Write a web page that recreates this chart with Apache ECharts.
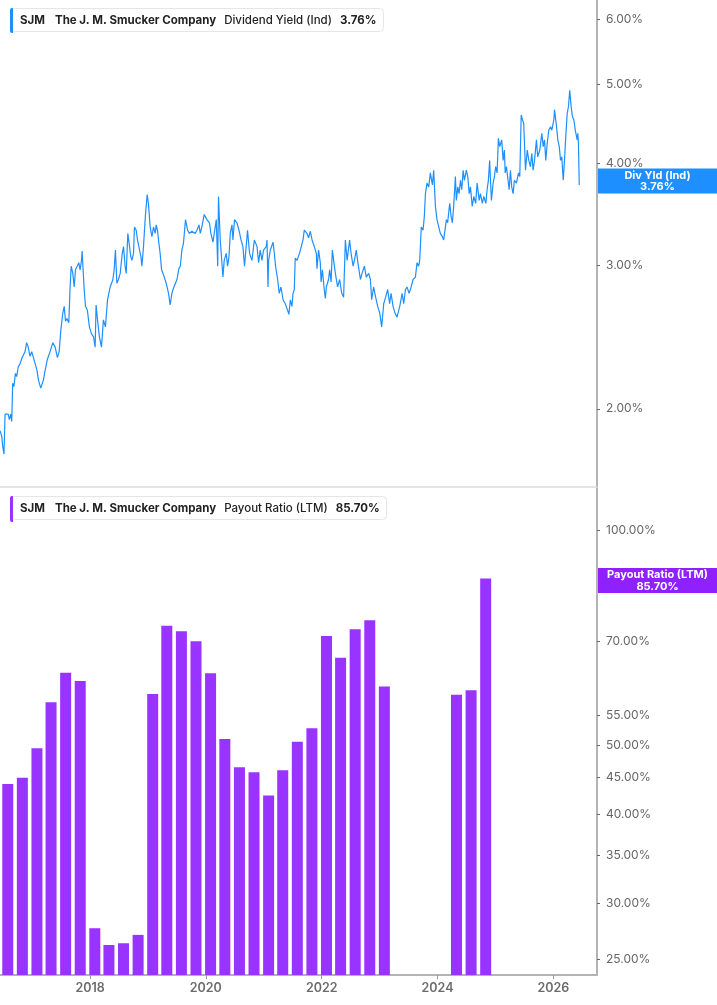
<!DOCTYPE html>
<html lang="en">
<head>
<meta charset="UTF-8">
<title>SJM Dividend Yield and Payout Ratio</title>
<script src="https://cdn.jsdelivr.net/npm/echarts@6/dist/echarts.min.js"></script>
<style>
  * { margin: 0; padding: 0; box-sizing: border-box; }
  body { background: #fff; }
  #chart { width: 717px; height: 1005px; }
</style>
</head>
<body>
<div id="chart"></div>
<script>
// Dividend yield (Ind), %
const yieldDates = [
  '2016-06-12','2016-06-23','2016-06-29','2016-07-07','2016-07-14','2016-07-24','2016-08-03','2016-08-10','2016-08-19','2016-08-25','2016-08-31','2016-09-08','2016-09-17','2016-09-25','2016-10-05','2016-10-16','2016-10-29','2016-11-06','2016-11-17','2016-11-27','2016-12-07','2016-12-18','2016-12-29',
  '2017-01-09','2017-01-20','2017-01-31','2017-02-09','2017-02-24','2017-03-13','2017-03-24','2017-04-07','2017-04-24','2017-05-11','2017-05-26','2017-06-09','2017-06-20','2017-07-01','2017-07-13','2017-07-22','2017-07-30','2017-08-08','2017-08-20','2017-08-28','2017-09-04','2017-09-14','2017-09-23','2017-10-01','2017-10-13','2017-10-22','2017-10-30','2017-11-08','2017-11-12','2017-11-18','2017-11-25','2017-12-03','2017-12-15','2017-12-28',
  '2018-01-10','2018-01-23','2018-02-02','2018-02-08','2018-02-17','2018-03-01','2018-03-14','2018-03-26','2018-04-08','2018-04-21','2018-05-08','2018-05-25','2018-06-02','2018-06-10','2018-06-19','2018-06-29','2018-07-10','2018-07-23','2018-07-31','2018-08-10','2018-08-17','2018-08-27','2018-09-07','2018-09-15','2018-09-22','2018-10-02','2018-10-08','2018-10-19','2018-10-27','2018-11-09','2018-11-18','2018-11-24','2018-12-04','2018-12-13','2018-12-17','2018-12-27',
  '2019-01-04','2019-01-15','2019-01-26','2019-02-05','2019-02-16','2019-02-22','2019-03-02','2019-03-11','2019-03-19','2019-03-28','2019-04-14','2019-04-26','2019-05-11','2019-05-21','2019-06-01','2019-06-11','2019-06-22','2019-07-03','2019-07-15','2019-07-24','2019-08-03','2019-08-13','2019-08-26','2019-09-08','2019-09-20','2019-10-05','2019-10-26','2019-11-06','2019-11-19','2019-11-27','2019-12-07','2019-12-22',
  '2020-01-08','2020-01-24','2020-02-02','2020-02-15','2020-03-07','2020-03-16','2020-03-21','2020-04-01','2020-04-18','2020-04-26','2020-05-09','2020-05-17','2020-05-26','2020-06-03','2020-06-14','2020-06-20','2020-06-30','2020-07-15','2020-07-28','2020-08-10','2020-08-22','2020-09-01','2020-09-20','2020-10-03','2020-10-18','2020-11-02','2020-11-19','2020-11-29','2020-12-09','2020-12-20','2020-12-30',
  '2021-01-16','2021-01-21','2021-01-27','2021-01-31','2021-02-11','2021-02-28','2021-03-08','2021-03-16','2021-03-29','2021-04-08','2021-04-19','2021-05-02','2021-05-16','2021-05-31','2021-06-08','2021-06-17','2021-06-27','2021-07-04','2021-07-12','2021-07-18','2021-07-29','2021-08-14','2021-09-05','2021-09-13','2021-09-30','2021-10-10','2021-10-21','2021-11-01','2021-11-15','2021-11-28','2021-12-02','2021-12-12','2021-12-23','2021-12-28',
  '2022-01-05','2022-01-17','2022-01-24','2022-01-30','2022-02-13','2022-02-20','2022-03-01','2022-03-09','2022-03-17','2022-03-28','2022-04-11','2022-04-24','2022-05-07','2022-05-19','2022-05-30','2022-06-10','2022-06-26','2022-07-05','2022-07-18','2022-07-26','2022-08-07','2022-08-15','2022-09-02','2022-09-12','2022-09-27','2022-10-09','2022-10-24','2022-11-04','2022-11-12','2022-11-24','2022-12-07','2022-12-20',
  '2023-01-02','2023-01-14','2023-01-27','2023-02-08','2023-02-21','2023-03-05','2023-03-14','2023-03-27','2023-04-08','2023-04-21','2023-05-08','2023-05-23','2023-06-02','2023-06-13','2023-06-23','2023-07-06','2023-07-19','2023-07-31','2023-08-15','2023-08-25','2023-09-04','2023-09-11','2023-09-21','2023-10-02','2023-10-10','2023-10-17','2023-10-27','2023-11-07','2023-11-17','2023-11-30','2023-12-08','2023-12-19','2023-12-29',
  '2024-01-09','2024-01-19','2024-02-01','2024-02-09','2024-02-26','2024-03-05','2024-03-18','2024-03-27','2024-04-04','2024-04-12','2024-04-23','2024-04-29','2024-05-08','2024-05-16','2024-05-25','2024-06-02','2024-06-11','2024-06-19','2024-07-01','2024-07-10','2024-07-19','2024-07-27','2024-08-07','2024-08-17','2024-08-29','2024-09-07','2024-09-20','2024-09-28','2024-10-10','2024-10-19','2024-11-01','2024-11-09','2024-11-17','2024-11-25','2024-12-06','2024-12-17','2024-12-25',
  '2025-01-02','2025-01-11','2025-01-19','2025-01-28','2025-02-09','2025-02-18','2025-02-26','2025-03-03','2025-03-11','2025-03-28','2025-04-05','2025-04-13','2025-04-22','2025-04-30','2025-05-13','2025-05-26','2025-06-03','2025-06-12','2025-06-20','2025-06-28','2025-07-09','2025-07-20','2025-07-30','2025-08-09','2025-08-18','2025-08-26','2025-09-04','2025-09-16','2025-09-24','2025-10-07','2025-10-20','2025-10-29','2025-11-06','2025-11-14','2025-11-23','2025-12-03','2025-12-14','2025-12-22',
  '2026-01-04','2026-01-08','2026-01-21','2026-01-29','2026-02-07','2026-02-15','2026-02-23','2026-03-04','2026-03-12','2026-03-20','2026-03-29','2026-04-06','2026-04-14','2026-04-23','2026-05-01','2026-05-10','2026-05-19','2026-05-27','2026-05-31','2026-06-04','2026-06-08','2026-06-13'
];
const yieldPct = [
  1.88,1.85,1.80,1.76,1.97,1.96,1.97,1.94,1.97,1.93,2.15,2.13,2.21,2.19,2.25,2.27,2.31,2.30,2.35,2.41,2.38,2.32,2.35,
  2.34,2.27,2.23,2.17,2.12,2.17,2.23,2.30,2.35,2.41,2.38,2.31,2.35,2.50,2.62,2.67,2.56,2.58,2.55,2.82,2.99,2.93,2.82,2.96,2.97,3.02,2.96,3.04,3.12,2.96,2.80,2.67,2.64,2.52,
  2.47,2.45,2.38,2.68,2.57,2.45,2.38,2.57,2.52,2.72,2.82,2.88,2.96,3.13,2.85,2.88,2.93,3.10,3.16,2.99,2.93,3.28,3.16,3.07,3.04,3.10,3.34,3.31,3.22,3.13,3.07,2.99,3.16,3.38,3.47,3.66,
  3.57,3.34,3.25,3.34,3.28,3.36,3.31,3.19,3.10,2.96,2.90,2.85,2.77,2.68,2.77,2.81,2.80,2.88,2.97,2.99,3.13,3.19,3.41,3.31,3.28,3.30,3.28,3.31,3.36,3.28,3.34,3.46,
  3.41,3.38,3.28,3.20,3.41,2.99,3.64,3.22,2.90,3.04,3.10,2.99,3.07,3.28,3.36,3.22,3.41,3.38,3.31,3.22,3.16,2.99,3.31,3.10,3.04,3.22,3.16,3.02,3.13,3.04,3.13,
  3.16,3.22,2.82,3.04,3.13,3.20,3.10,2.99,2.88,2.77,2.82,2.72,2.69,2.64,2.61,2.72,2.67,2.77,2.80,3.06,3.04,3.10,3.22,3.31,3.28,3.24,3.30,3.22,3.16,3.10,2.97,3.13,3.02,2.86,
  2.96,2.80,2.73,2.82,2.88,2.96,2.86,3.13,3.04,2.93,2.82,2.88,2.77,2.74,3.22,3.04,3.22,3.10,2.99,3.04,3.13,3.04,2.88,2.93,2.99,2.90,2.93,2.88,2.72,2.82,2.74,2.67,
  2.62,2.52,2.69,2.74,2.80,2.69,2.77,2.67,2.62,2.59,2.67,2.77,2.69,2.80,2.82,2.77,2.82,2.88,2.90,3.02,2.99,3.04,3.34,3.31,3.44,3.67,3.78,3.74,3.89,3.76,3.92,3.54,3.41,
  3.34,3.28,3.25,3.22,3.41,3.38,3.57,3.44,3.38,3.54,3.85,3.60,3.74,3.67,3.81,3.71,3.92,3.81,3.92,3.85,3.67,3.74,3.54,3.64,3.57,3.78,3.60,3.67,3.57,3.64,3.57,3.71,3.81,4.03,3.60,3.78,3.85,
  3.96,3.89,4.29,4.19,4.27,4.03,4.15,3.89,3.96,3.71,3.92,3.74,3.67,3.81,3.78,3.89,3.85,4.58,4.52,4.47,3.92,4.15,4.03,3.96,4.11,3.92,4.03,4.27,4.07,4.15,4.35,4.19,4.27,4.03,4.23,4.39,4.43,4.39,
  4.52,4.65,4.43,4.27,4.19,4.03,4.07,3.81,4.03,4.31,4.60,4.69,4.91,4.69,4.56,4.52,4.39,4.31,4.27,4.35,4.23,3.76
];

// Payout ratio (LTM), %, at fiscal quarter ends; null = not shown
const quarterEnds = [
  '2016-07-31','2016-10-31','2017-01-31','2017-04-30','2017-07-31','2017-10-31',
  '2018-01-31','2018-04-30','2018-07-31','2018-10-31','2019-01-31','2019-04-30',
  '2019-07-31','2019-10-31','2020-01-31','2020-04-30','2020-07-31','2020-10-31',
  '2021-01-31','2021-04-30','2021-07-31','2021-10-31','2022-01-31','2022-04-30',
  '2022-07-31','2022-10-31','2023-01-31','2023-04-30','2023-07-31','2023-10-31',
  '2024-01-31','2024-04-30','2024-07-31','2024-10-31'
];
const payoutPct = [
  44.08, 44.98, 49.46, 57.41, 63.17, 61.50,
  27.64, 26.18, 26.33, 27.05, 58.97, 73.55,
  72.22, 69.93, 63.05, 50.98, 46.51, 45.77,
  42.45, 46.06, 50.53, 52.77, 71.13, 66.31,
  72.68, 74.83, 60.39, null, null, null,
  null, 58.84, 59.69, 85.70
];

const yieldTicks = [2, 3, 4, 5, 6];
const payoutTicks = [25, 30, 35, 40, 45, 50, 55, 70, 100];
const yearTicks = ['2018-01-01', '2020-01-01', '2022-01-01', '2024-01-01', '2026-01-01'];
const lastYield = 3.76;
const lastPayout = 85.70;

const BLUE = '#1e8fff';
const PURPLE = '#9933ff';
const PURPLE_TAG = '#8f20ff';
const FONT = 'Inter, "Noto Sans", sans-serif';

// dates go on a plain value axis as timestamps
const ts = d => +new Date(d + 'T00:00:00');
// both panels are drawn on a log scale: values go in as log10
const lg = Math.log10;
const fmtPct = v => Math.pow(10, v).toFixed(2) + '%';

const chart = echarts.init(document.getElementById('chart'));

function rightAxis(gridIndex, lo, hi, ticks) {
  return {
    type: 'value',
    gridIndex: gridIndex,
    position: 'right',
    min: lg(lo),
    max: lg(hi),
    splitLine: { show: false },
    axisLine: { show: true, onZero: false, lineStyle: { color: '#b4b4b4', width: 2 } },
    axisTick: { show: true, length: 3, customValues: ticks.map(lg), lineStyle: { color: '#666' } },
    axisLabel: { customValues: ticks.map(lg), formatter: fmtPct, color: '#666', fontSize: 12, margin: 9, fontFamily: FONT }
  };
}

// last-value tag on the right axis
function endTag(name, value, color) {
  return {
    silent: true,
    symbol: 'none',
    animation: false,
    lineStyle: { color: 'rgba(0,0,0,0)', width: 0 },
    data: [{ yAxis: lg(value) }],
    label: {
      show: true,
      position: 'end',
      distance: 1,
      opacity: 1,
      backgroundColor: color,
      padding: [1, 1],
      formatter: '{a|' + name + '}\n{a|' + value.toFixed(2) + '%}',
      rich: {
        a: { width: 117, align: 'center', color: '#fff', fontWeight: 700, fontSize: 11, lineHeight: 11.5, fontFamily: FONT }
      }
    }
  };
}

function header(top, metric, value) {
  const base = { fontFamily: FONT, fontSize: 11.5, color: '#222', lineHeight: 13 };
  return {
    left: 10,
    top: top,
    padding: [6, 7, 5, 10],
    backgroundColor: '#fff',
    borderColor: '#e6e6e6',
    borderWidth: 1,
    borderRadius: 4,
    text: '{s|SJM}{b|The J. M. Smucker Company}{m|' + metric + '}{v|' + value + '}',
    textStyle: {
      rich: {
        s: Object.assign({}, base, { fontWeight: 700, padding: [0, 10, 0, 0] }),
        b: Object.assign({}, base, { fontWeight: 700, padding: [0, 8, 0, 0] }),
        m: Object.assign({}, base, { fontWeight: 500, padding: [0, 8, 0, 0] }),
        v: Object.assign({}, base, { fontWeight: 700 })
      }
    }
  };
}

const xMin = ts('2016-06-12');
const xMax = ts('2026-10-03');

function dateAxis(gridIndex, withLabels, lineColor, lineWidth) {
  return {
    type: 'value', gridIndex: gridIndex, min: xMin, max: xMax,
    splitLine: { show: false },
    axisLine: { onZero: false, lineStyle: { color: lineColor, width: lineWidth } },
    axisTick: { show: withLabels, customValues: yearTicks.map(ts), length: 4, lineStyle: { color: '#999' } },
    axisLabel: {
      show: withLabels,
      customValues: yearTicks.map(ts),
      formatter: v => String(new Date(v).getFullYear()),
      color: '#6b6b6b', fontWeight: 600, fontSize: 12.5, margin: 7, fontFamily: FONT
    }
  };
}

chart.setOption({
  animation: false,
  textStyle: { fontFamily: FONT },
  title: [
    header(8, 'Dividend Yield (Ind)', lastYield.toFixed(2) + '%'),
    header(496, 'Payout Ratio (LTM)', lastPayout.toFixed(2) + '%')
  ],
  graphic: [
    { type: 'rect', left: 10, top: 8, z: 100, shape: { width: 3, height: 25, r: [2, 0, 0, 2] }, style: { fill: BLUE } },
    { type: 'rect', left: 10, top: 496, z: 100, shape: { width: 3, height: 26, r: [2, 0, 0, 2] }, style: { fill: PURPLE } }
  ],
  grid: [
    { left: 0, right: 120, top: 0, height: 487 },
    { left: 0, right: 120, top: 488, height: 487 }
  ],
  xAxis: [
    dateAxis(0, false, '#dcdcdc', 1.5),
    dateAxis(1, true, '#b4b4b4', 2)
  ],
  yAxis: [
    rightAxis(0, 1.604, 6.336, yieldTicks),
    rightAxis(1, 23.76, 114.8, payoutTicks)
  ],
  series: [
    {
      name: 'Div Yld (Ind)',
      type: 'line',
      xAxisIndex: 0,
      yAxisIndex: 0,
      symbol: 'none',
      data: yieldDates.map((d, i) => [ts(d), lg(yieldPct[i])]),
      lineStyle: { color: BLUE, width: 1.2 },
      markLine: endTag('Div Yld (Ind)', lastYield, BLUE)
    },
    {
      name: 'Payout Ratio (LTM)',
      type: 'bar',
      xAxisIndex: 1,
      yAxisIndex: 1,
      barWidth: 11,
      data: quarterEnds.map((d, i) => [ts(d), payoutPct[i] == null ? '-' : lg(payoutPct[i])]),
      itemStyle: { color: PURPLE },
      markLine: endTag('Payout Ratio (LTM)', lastPayout, PURPLE_TAG)
    }
  ]
});

window.addEventListener('resize', function () {
  chart.resize();
});
</script>
</body>
</html>
